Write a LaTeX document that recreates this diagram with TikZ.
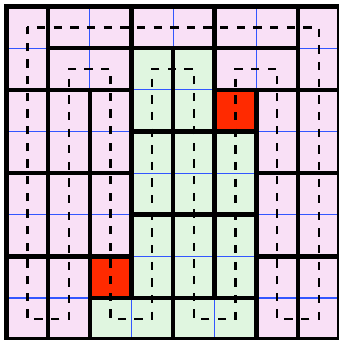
\documentclass[tikz,border=0pt]{standalone}
\usepackage{tikz}
\definecolor{rosa}{HTML}{F9E0F6}
\definecolor{gruen}{HTML}{E0F6E0}
\definecolor{rot}{HTML}{FF2A00}
\definecolor{gblau}{HTML}{3356FF}
\tikzset{
  gitter/.style={gblau,line width=0.8pt},
  rand/.style={black,line width=3.1pt},
  pfad/.style={black,line width=1.6pt,dash pattern=on 0.2cm off 0.2cm,dash phase=0.17cm},
}
% Dominosteine: Spalte/Zeile/Breite/Hoehe/Farbe
\newcommand{\steine}{0/0/1/2/rosa, 1/0/2/1/rosa, 3/0/2/1/rosa, 5/0/2/1/rosa, 7/0/1/2/rosa,
  1/1/2/1/rosa, 3/1/1/2/gruen, 4/1/1/2/gruen, 5/1/2/1/rosa,
  0/2/1/2/rosa, 1/2/1/2/rosa, 2/2/1/2/rosa, 5/2/1/1/rot, 6/2/1/2/rosa, 7/2/1/2/rosa,
  3/3/1/2/gruen, 4/3/1/2/gruen, 5/3/1/2/gruen,
  0/4/1/2/rosa, 1/4/1/2/rosa, 2/4/1/2/rosa, 6/4/1/2/rosa, 7/4/1/2/rosa,
  3/5/1/2/gruen, 4/5/1/2/gruen, 5/5/1/2/gruen,
  0/6/1/2/rosa, 1/6/1/2/rosa, 2/6/1/1/rot, 6/6/1/2/rosa, 7/6/1/2/rosa,
  2/7/2/1/gruen, 4/7/2/1/gruen}

\begin{document}
\begin{tikzpicture}[y=-1cm]
  \useasboundingbox (-0.157,-0.157) rectangle (7.96,8.008);
  % Flaechen der Steine
  \foreach \x/\y/\b/\h/\f in \steine
    \fill[\f] (\x,\y) rectangle ++(\b,\h);
  % Zellgitter
  \foreach \i in {1,...,7} {
    \draw[gitter] (\i,0) -- (\i,8);
    \draw[gitter] (0,\i) -- (8,\i);
  }
  % Raender der Steine
  \foreach \x/\y/\b/\h/\f in \steine
    \draw[rand] (\x,\y) rectangle ++(\b,\h);
  % geschlossener Weg durch die Zellmitten
  \draw[pfad] (0.5,0.5) -- (7.5,0.5) -- (7.5,7.5) -- (6.5,7.5) -- (6.5,1.5)
    -- (5.5,1.5) -- (5.5,7.5) -- (4.5,7.5) -- (4.5,1.5) -- (3.5,1.5) -- (3.5,7.5)
    -- (2.5,7.5) -- (2.5,1.5) -- (1.5,1.5) -- (1.5,7.5) -- (0.5,7.5) -- cycle;
\end{tikzpicture}
\end{document}
